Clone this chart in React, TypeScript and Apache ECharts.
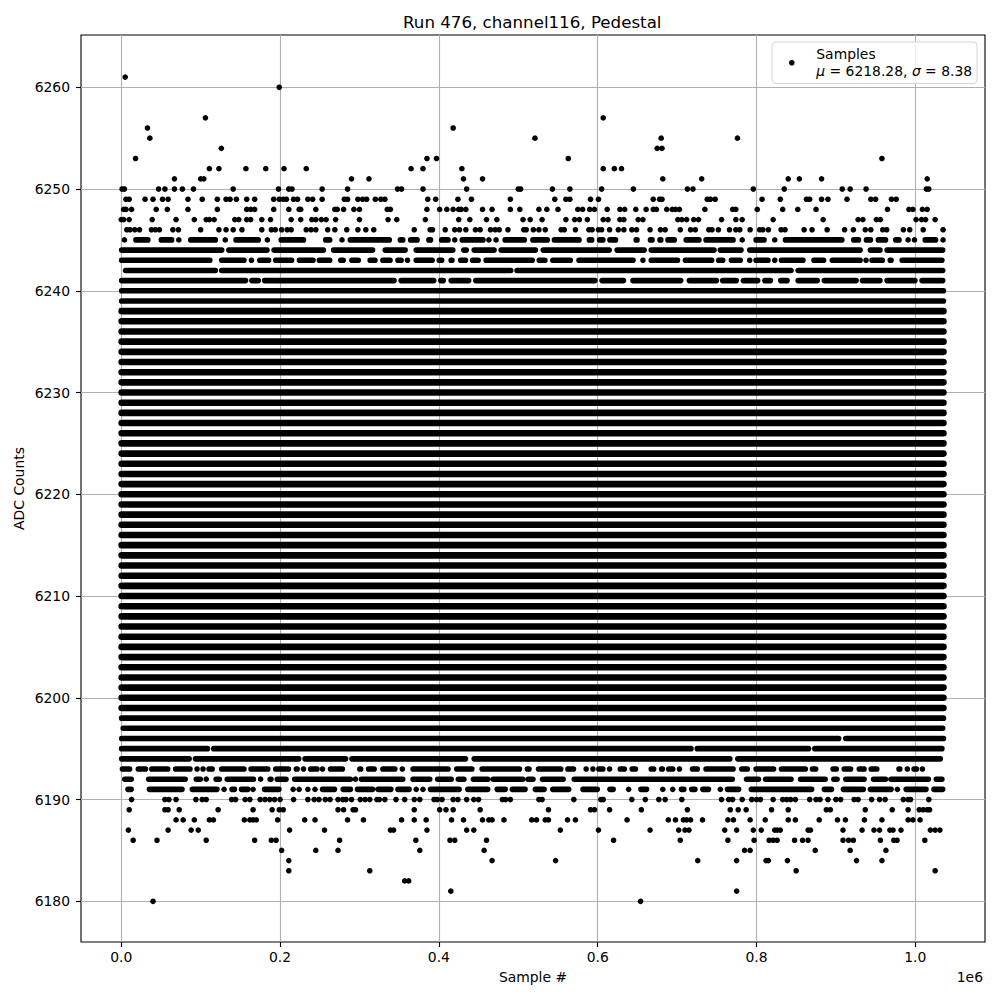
import React, { useEffect, useRef } from "react";
import * as echarts from "echarts";

// All sample positions are in thousands of samples.
const xTicks = [0, 200000, 400000, 600000, 800000, 1000000];
const yTicks = [6180, 6190, 6200, 6210, 6220, 6230, 6240, 6250, 6260];

// Rows in which the samples merge into one unbroken, heavy band.
const solidLevels = [
  6199, 6200, 6201, 6202, 6203, 6204, 6205, 6206, 6207, 6208, 6209, 6210, 6211, 6212, 6213,
  6214, 6215, 6216, 6217, 6218, 6219, 6220, 6221, 6222, 6223, 6224, 6225, 6226, 6227, 6228, 6229,
  6230, 6231, 6232, 6233, 6234, 6235, 6236, 6237, 6238,
];
const solidExtent: [number, number] = [-3, 1039];

// Separate samples: [ADC level, sample positions].
const highDots: [number, number[]][] = [
  [6261, [5]],
  [6260, [199]],
  [6257, [106, 607]],
  [6256, [33, 418]],
  [6255, [36, 521, 680, 776]],
  [6254, [126, 675, 681]],
  [6253, [18, 385, 397, 563, 958]],
  [6252, [111, 123, 157, 182, 205, 233, 365, 380, 429, 607, 621, 630]],
  [6251, [67, 100, 104, 290, 312, 431, 455, 682, 731, 840, 854, 882, 1015]],
  [6250, [1, 4, 47, 55, 67, 77, 91, 141, 198, 211, 215, 253, 285, 348, 353, 380, 435, 500, 503, 543, 565, 605, 645, 713, 720, 796, 835, 908, 918, 938, 1014, 1017]],
  [6249, [6, 10, 30, 40, 52, 59, 84, 102, 121, 132, 137, 145, 158, 168, 192, 199, 204, 208, 217, 222, 235, 241, 253, 281, 285, 298, 304, 309, 320, 327, 332, 386, 396, 424, 441, 490, 546, 560, 565, 591, 601, 670, 678, 681, 738, 742, 748, 807, 830, 863, 867, 882, 890, 914, 944, 950, 970, 976]],
  [6248, [3, 6, 13, 44, 58, 84, 121, 158, 163, 168, 192, 211, 224, 226, 245, 269, 272, 280, 293, 300, 335, 339, 385, 401, 410, 418, 425, 428, 434, 455, 467, 490, 502, 526, 536, 550, 575, 581, 590, 596, 612, 628, 634, 648, 661, 670, 674, 687, 694, 698, 703, 735, 770, 774, 801, 833, 852, 875, 965, 992, 997, 1009, 1015]],
  [6247, [0, 3, 10, 39, 69, 92, 107, 111, 117, 143, 148, 158, 163, 177, 188, 214, 226, 240, 245, 252, 258, 270, 300, 336, 347, 383, 425, 439, 460, 473, 506, 515, 530, 560, 571, 577, 587, 607, 613, 628, 633, 651, 657, 701, 706, 712, 721, 727, 756, 774, 782, 821, 884, 928, 934, 951, 956, 1001, 1008, 1013, 1025]],
  [6246, [7, 11, 17, 23, 38, 43, 48, 65, 72, 100, 123, 132, 141, 152, 177, 189, 194, 202, 209, 214, 233, 239, 245, 260, 269, 284, 298, 308, 318, 369, 389, 392, 408, 420, 426, 434, 446, 452, 465, 471, 476, 487, 507, 510, 519, 526, 534, 554, 558, 572, 589, 593, 601, 605, 615, 626, 633, 643, 649, 666, 679, 685, 704, 717, 723, 740, 744, 752, 766, 774, 779, 792, 804, 808, 815, 831, 836, 860, 870, 889, 911, 922, 937, 944, 959, 964, 985, 993, 1010, 1035]],
  [6245, [4, 131, 184, 278, 420, 463, 472, 782, 823, 991, 999, 1035]],
];

const lowDots: [number, number[]][] = [
  [6190, [13, 55, 60, 69, 94, 102, 107, 139, 144, 156, 162, 175, 181, 187, 193, 200, 217, 235, 243, 249, 257, 263, 273, 279, 283, 290, 301, 307, 313, 322, 325, 332, 346, 357, 369, 376, 394, 398, 404, 418, 424, 435, 444, 450, 480, 484, 490, 526, 530, 570, 604, 607, 643, 660, 677, 685, 706, 756, 765, 770, 782, 794, 800, 805, 821, 833, 838, 843, 849, 867, 875, 880, 890, 900, 906, 923, 928, 945, 955, 962, 985, 991, 994, 1017]],
  [6189, [10, 55, 59, 73, 122, 166, 190, 199, 204, 273, 280, 292, 295, 369, 401, 409, 418, 452, 538, 591, 596, 615, 655, 713, 767, 777, 787, 819, 840, 888, 893, 937, 971, 991, 1005, 1010, 1015, 1018]],
  [6188, [69, 78, 92, 111, 116, 155, 162, 166, 170, 197, 231, 244, 285, 305, 353, 369, 384, 416, 431, 455, 463, 467, 482, 517, 523, 534, 538, 562, 572, 637, 689, 698, 708, 712, 717, 732, 764, 771, 792, 811, 840, 849, 879, 902, 912, 936, 958, 991, 997, 1006]],
  [6187, [9, 59, 88, 97, 212, 256, 339, 343, 385, 435, 444, 553, 601, 666, 702, 710, 715, 760, 775, 796, 806, 823, 826, 830, 865, 868, 909, 933, 948, 955, 968, 972, 982, 1019, 1025, 1031]],
  [6186, [15, 45, 107, 168, 189, 195, 275, 371, 414, 420, 460, 620, 704, 764, 797, 816, 821, 826, 848, 858, 865, 909, 916, 922, 956, 973, 977, 1012]],
  [6185, [202, 245, 273, 376, 457, 785, 792, 874, 918, 963]],
  [6184, [211, 467, 547, 726, 775, 812, 815, 839, 926, 958]],
  [6183, [211, 313, 850, 1025]],
  [6182, [357, 362]],
  [6181, [415, 775]],
  [6180, [40, 654]],
];

// Stretches of touching samples: [ADC level, [left edge, right edge] of each stretch].
const highRuns: [number, [number, number][]][] = [
  [6245, [[15, 37], [47, 67], [69, 76], [84, 122], [141, 176], [198, 233], [254, 266], [285, 341], [348, 358], [361, 376], [384, 393], [400, 415], [426, 459], [480, 511], [515, 540], [542, 580], [586, 596], [599, 610], [612, 626], [645, 653], [663, 672], [675, 683], [685, 700], [708, 731], [733, 774], [796, 813], [833, 911], [919, 932], [935, 947], [950, 966], [972, 983], [1009, 1029]]],
  [6244, [[-3, 130], [132, 187], [189, 258], [264, 320], [329, 361], [368, 421], [428, 438], [441, 473], [475, 525], [528, 618], [621, 662], [664, 750], [751, 784], [788, 934], [940, 959], [961, 1038]]],
  [6243, [[-3, 115], [123, 158], [161, 167], [171, 189], [191, 218], [221, 245], [246, 266], [273, 283], [287, 302], [310, 323], [326, 342], [345, 356], [357, 364], [368, 395], [397, 407], [412, 420], [424, 437], [439, 453], [456, 521], [523, 537], [540, 569], [573, 648], [654, 660], [664, 704], [707, 747], [749, 761], [765, 783], [789, 794], [796, 818], [820, 826], [828, 862], [869, 888], [892, 934], [935, 941], [942, 962], [965, 973], [980, 1037]]],
  [6242, [[2, 122], [123, 494], [495, 847], [849, 1038]]],
  [6241, [[-3, 160], [161, 176], [177, 347], [349, 397], [399, 409], [412, 441], [443, 600], [602, 636], [641, 708], [712, 753], [754, 778], [780, 805], [807, 821], [827, 842], [849, 880], [882, 929], [930, 959], [961, 1003], [1005, 1038]]],
  [6240, [[-3, 1039]]],
  [6239, [[-3, 1039]]],
];

const lowRuns: [number, [number, number][]][] = [
  [6198, [[-3, 1039]]],
  [6197, [[-1, 1038]]],
  [6196, [[-3, 907], [909, 1039]]],
  [6195, [[-3, 112], [113, 721], [722, 869], [870, 1037]]],
  [6194, [[-3, 89], [90, 227], [228, 286], [287, 437], [441, 770], [773, 1035]]],
  [6193, [[-2, 14], [18, 34], [35, 62], [65, 90], [93, 98], [100, 106], [107, 118], [123, 158], [160, 188], [191, 214], [217, 225], [227, 232], [235, 250], [250, 257], [260, 282], [297, 305], [308, 322], [326, 348], [351, 357], [364, 415], [419, 445], [451, 505], [508, 517], [522, 557], [559, 573], [582, 589], [591, 597], [598, 610], [612, 618], [625, 637], [640, 651], [664, 674], [677, 685], [686, 698], [700, 706], [716, 729], [733, 774], [778, 792], [796, 825], [828, 865], [867, 878], [893, 904], [907, 922], [926, 939], [941, 955], [976, 984], [987, 993], [995, 1005], [1006, 1012]]],
  [6192, [[1, 16], [31, 84], [91, 103], [104, 110], [116, 127], [130, 170], [172, 179], [184, 192], [193, 211], [215, 292], [292, 298], [299, 358], [364, 392], [395, 419], [421, 435], [440, 465], [465, 509], [509, 522], [527, 560], [567, 773], [784, 806], [808, 847], [852, 890], [894, 905], [909, 939], [944, 966], [966, 1020], [1023, 1037]]],
  [6191, [[5, 16], [32, 80], [86, 124], [127, 132], [136, 146], [148, 163], [163, 169], [177, 202], [213, 220], [221, 227], [232, 238], [241, 247], [250, 272], [276, 292], [294, 320], [320, 343], [345, 366], [369, 374], [377, 383], [386, 429], [433, 465], [470, 487], [489, 512], [518, 536], [540, 567], [578, 603], [612, 623], [636, 642], [651, 665], [679, 685], [691, 698], [702, 712], [715, 726], [729, 743], [751, 758], [760, 781], [790, 873], [882, 898], [906, 938], [940, 973], [974, 981], [985, 1017], [1020, 1038]]],
];

const K = 1000;
const DOT_SIZE = 5.6;
const SOLID_WIDTH = 6.6;
const CAP = 3.5; // half a dot, in thousands of samples

const dotPoints: [number, number][] = [];
const runPoints: [number, number | null][] = [];
const solidPoints: [number, number | null][] = [];

function addDots(rows: [number, number[]][]) {
  rows.forEach(([level, xs]) => xs.forEach((x) => dotPoints.push([x * K, level])));
}
function addRun(target: [number, number | null][], level: number, a: number, b: number) {
  if (b - a <= 2 * CAP) {
    dotPoints.push([((a + b) / 2) * K, level]);
    return;
  }
  target.push([(a + CAP) * K, level], [(b - CAP) * K, level], [(b - CAP) * K, null]);
}
addDots(highDots);
addDots(lowDots);
highRuns.concat(lowRuns).forEach(([level, runs]) => runs.forEach(([a, b]) => addRun(runPoints, level, a, b)));
solidLevels.forEach((level) => addRun(solidPoints, level, solidExtent[0], solidExtent[1]));

const font = "DejaVu Sans";
const FS = 13.9;

export default function App() {
  const ref = useRef<HTMLDivElement>(null);
  useEffect(() => {
    const chart = echarts.init(ref.current!, null, { renderer: "svg" });
    const bandSeries = (name: string, data: [number, number | null][], width: number) => ({
      name,
      type: "line",
      data,
      showSymbol: false,
      symbol: "none",
      connectNulls: false,
      lineStyle: { color: "#000", width, cap: "round", join: "round" },
      silent: true,
    });
    chart.setOption({
      animation: false,
      backgroundColor: "#fff",
      textStyle: { fontFamily: font },
      title: {
        text: "Run 476, channel116, Pedestal",
        left: 403,
        top: 14,
        padding: 0,
        textStyle: { fontFamily: font, fontSize: 16.67, fontWeight: "normal", color: "#000" },
      },
      grid: {
        left: 81,
        right: 15,
        top: 35,
        bottom: 58,
        outerBoundsMode: "none",
        show: true,
        borderColor: "#000",
        borderWidth: 1.1,
        backgroundColor: "transparent",
      },
      xAxis: {
        type: "value",
        min: -50700,
        max: 1087800,
        name: "Sample #",
        nameLocation: "middle",
        nameGap: 28,
        nameMoveOverlap: false,
        nameTextStyle: { fontFamily: font, fontSize: FS, color: "#000" },
        axisLine: { show: false, onZero: false },
        axisTick: { show: true, length: 5, customValues: xTicks, lineStyle: { color: "#000", width: 1.1 } },
        axisLabel: {
          customValues: xTicks,
          margin: 8,
          fontFamily: font,
          fontSize: FS,
          color: "#000",
          formatter: (v: number) => (v / 1e6).toFixed(1),
        },
        splitLine: { show: true, lineStyle: { color: "#b0b0b0", width: 1.1 } },
      },
      yAxis: {
        type: "value",
        min: 6176,
        max: 6265.14,
        name: "ADC Counts",
        nameLocation: "middle",
        nameGap: 55,
        nameMoveOverlap: false,
        nameTextStyle: { fontFamily: font, fontSize: FS, color: "#000" },
        axisLine: { show: false, onZero: false },
        axisTick: { show: true, length: 5, customValues: yTicks, lineStyle: { color: "#000", width: 1.1 } },
        axisLabel: {
          customValues: yTicks,
          margin: 11,
          fontFamily: font,
          fontSize: FS,
          color: "#000",
          formatter: (v: number) => String(v),
        },
        splitLine: { show: true, lineStyle: { color: "#b0b0b0", width: 1.1 } },
      },
      legend: {
        data: ["Samples"],
        left: 772,
        top: 42,
        orient: "vertical",
        icon: "circle",
        itemWidth: 39,
        itemHeight: DOT_SIZE,
        padding: [5, 5, 5, 17],
        borderColor: "#d5d5d5",
        borderWidth: 1,
        borderRadius: 4,
        backgroundColor: "rgba(255,255,255,0.8)",
        formatter: () => "{a|Samples}\n{i|μ}{a| = 6218.28, }{i|σ}{a| = 8.38}",
        textStyle: {
          fontFamily: font,
          color: "#000",
          rich: {
            a: { fontFamily: font, fontSize: FS, color: "#000", lineHeight: 17.5 },
            i: { fontFamily: font, fontSize: FS, fontStyle: "italic", color: "#000", lineHeight: 17.5 },
          },
        },
      },
      series: [
        {
          name: "Samples",
          type: "scatter",
          data: dotPoints,
          symbol: "circle",
          symbolSize: DOT_SIZE,
          itemStyle: { color: "#000", opacity: 1 },
          silent: true,
        },
        bandSeries("Sample stretches", runPoints, DOT_SIZE),
        bandSeries("Sample bands", solidPoints, SOLID_WIDTH),
      ],
      graphic: [
        {
          type: "text",
          right: 17,
          top: 970,
          style: { text: "1e6", font: `${FS}px "${font}"`, fill: "#000" },
        },
      ],
    });
    return () => chart.dispose();
  }, []);
  return <div ref={ref} style={{ position: "fixed", left: 0, top: 0, width: 1000, height: 1000 }} />;
}
